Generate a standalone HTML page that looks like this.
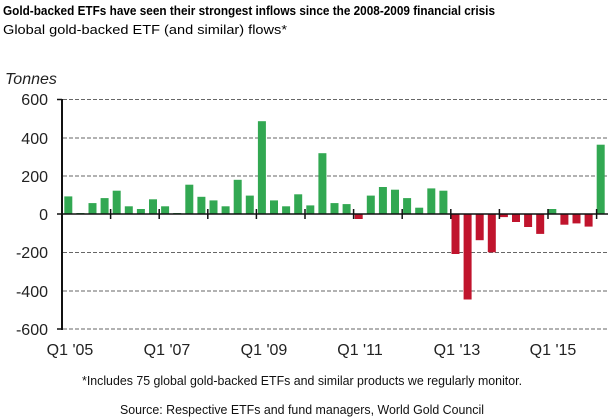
<!DOCTYPE html>
<html><head><meta charset="utf-8"><style>
html,body{margin:0;padding:0;background:#fff;width:609px;height:419px;overflow:hidden}
svg{display:block}
text{font-family:"Liberation Sans",Arial,sans-serif}
</style></head><body>
<svg width="609" height="419" xmlns="http://www.w3.org/2000/svg">
<text x="3" y="15" font-size="13" font-weight="bold" textLength="492" lengthAdjust="spacingAndGlyphs">Gold-backed ETFs have seen their strongest inflows since the 2008-2009 financial crisis</text>
<text x="3" y="34" font-size="13" textLength="284" lengthAdjust="spacingAndGlyphs">Global gold-backed ETF (and similar) flows*</text>
<text x="5" y="84" font-size="16" font-style="italic" fill="#222">Tonnes</text>
<g stroke="#666" stroke-width="1" stroke-dasharray="4,2">
<line x1="63" y1="99.5" x2="608" y2="99.5"/>
<line x1="63" y1="138" x2="608" y2="138"/>
<line x1="63" y1="176" x2="608" y2="176"/>
<line x1="63" y1="252.5" x2="608" y2="252.5"/>
<line x1="63" y1="291" x2="608" y2="291"/>
<line x1="63" y1="329" x2="608" y2="329"/>
</g>
<g font-size="16" fill="#222" text-anchor="end">
<text x="48" y="105">600</text><text x="48" y="144">400</text><text x="48" y="182">200</text>
<text x="48" y="220">0</text><text x="48" y="258">-200</text><text x="48" y="297">-400</text><text x="48" y="335">-600</text>
</g>
<g fill="#32a852">
<rect x="64.3" y="196.4" width="8" height="17.6"/>
<rect x="76.4" y="213" width="8" height="1"/>
<rect x="88.5" y="203.1" width="8" height="10.9"/>
<rect x="100.6" y="198.1" width="8" height="15.9"/>
<rect x="112.7" y="190.7" width="8" height="23.3"/>
<rect x="124.8" y="206.3" width="8" height="7.7"/>
<rect x="136.9" y="209" width="8" height="5"/>
<rect x="149" y="199.3" width="8" height="14.7"/>
<rect x="161.1" y="206.3" width="8" height="7.7"/>
<rect x="173.2" y="213" width="8" height="1"/>
<rect x="185.3" y="184.7" width="8" height="29.3"/>
<rect x="197.4" y="196.8" width="8" height="17.2"/>
<rect x="209.5" y="200.4" width="8" height="13.6"/>
<rect x="221.6" y="206.3" width="8" height="7.7"/>
<rect x="233.7" y="179.8" width="8" height="34.2"/>
<rect x="245.8" y="195.6" width="8" height="18.4"/>
<rect x="257.9" y="121.2" width="8" height="92.8"/>
<rect x="270" y="200.4" width="8" height="13.6"/>
<rect x="282.1" y="206.3" width="8" height="7.7"/>
<rect x="294.2" y="194.3" width="8" height="19.7"/>
<rect x="306.3" y="205.4" width="8" height="8.6"/>
<rect x="318.4" y="153.2" width="8" height="60.8"/>
<rect x="330.5" y="203.1" width="8" height="10.9"/>
<rect x="342.6" y="204.1" width="8" height="9.9"/>
<rect x="366.8" y="195.6" width="8" height="18.4"/>
<rect x="378.9" y="187" width="8" height="27"/>
<rect x="391" y="189.7" width="8" height="24.3"/>
<rect x="403.1" y="198.1" width="8" height="15.9"/>
<rect x="415.2" y="207.7" width="8" height="6.3"/>
<rect x="427.3" y="188.4" width="8" height="25.6"/>
<rect x="439.4" y="190.7" width="8" height="23.3"/>
<rect x="548.3" y="209" width="8" height="5"/>
<rect x="596.7" y="144.7" width="8" height="69.3"/>
</g>
<g fill="#c0142d">
<rect x="354.7" y="214" width="8" height="5"/>
<rect x="451.5" y="214" width="8" height="40"/>
<rect x="463.6" y="214" width="8" height="85.5"/>
<rect x="475.7" y="214" width="8" height="26.2"/>
<rect x="487.8" y="214" width="8" height="38.3"/>
<rect x="499.9" y="214" width="8" height="3.1"/>
<rect x="512" y="214" width="8" height="8"/>
<rect x="524.1" y="214" width="8" height="13"/>
<rect x="536.2" y="214" width="8" height="19.9"/>
<rect x="560.4" y="214" width="8" height="10.7"/>
<rect x="572.5" y="214" width="8" height="9.4"/>
<rect x="584.6" y="214" width="8" height="12.6"/>
</g>
<line x1="62" y1="99" x2="62" y2="330" stroke="#111" stroke-width="2"/>
<line x1="57" y1="99.5" x2="62" y2="99.5" stroke="#111" stroke-width="1.5"/>
<line x1="57" y1="329" x2="62" y2="329" stroke="#111" stroke-width="1.5"/>
<line x1="57" y1="214" x2="608" y2="214" stroke="#111" stroke-width="1.5"/>
<g stroke="#111" stroke-width="1.5">
<line x1="110.6" y1="209" x2="110.6" y2="219"/>
<line x1="159.2" y1="209" x2="159.2" y2="219"/>
<line x1="207.8" y1="209" x2="207.8" y2="219"/>
<line x1="256.4" y1="209" x2="256.4" y2="219"/>
<line x1="305" y1="209" x2="305" y2="219"/>
<line x1="353.6" y1="209" x2="353.6" y2="219"/>
<line x1="402.2" y1="209" x2="402.2" y2="219"/>
<line x1="450.8" y1="209" x2="450.8" y2="219"/>
<line x1="499.4" y1="209" x2="499.4" y2="219"/>
<line x1="548" y1="209" x2="548" y2="219"/>
<line x1="596.6" y1="209" x2="596.6" y2="219"/>
</g>
<g font-size="16" fill="#222" text-anchor="middle">
<text x="70" y="355">Q1 '05</text><text x="167" y="355">Q1 '07</text><text x="264" y="355">Q1 '09</text>
<text x="360" y="355">Q1 '11</text><text x="457" y="355">Q1 '13</text><text x="553" y="355">Q1 '15</text>
</g>
<text x="82" y="385" font-size="13" fill="#111" textLength="440" lengthAdjust="spacingAndGlyphs">*Includes 75 global gold-backed ETFs and similar products we regularly monitor.</text>
<text x="120" y="414" font-size="13" fill="#111" textLength="364" lengthAdjust="spacingAndGlyphs">Source: Respective ETFs and fund managers, World Gold Council</text>
</svg>
</body></html>
